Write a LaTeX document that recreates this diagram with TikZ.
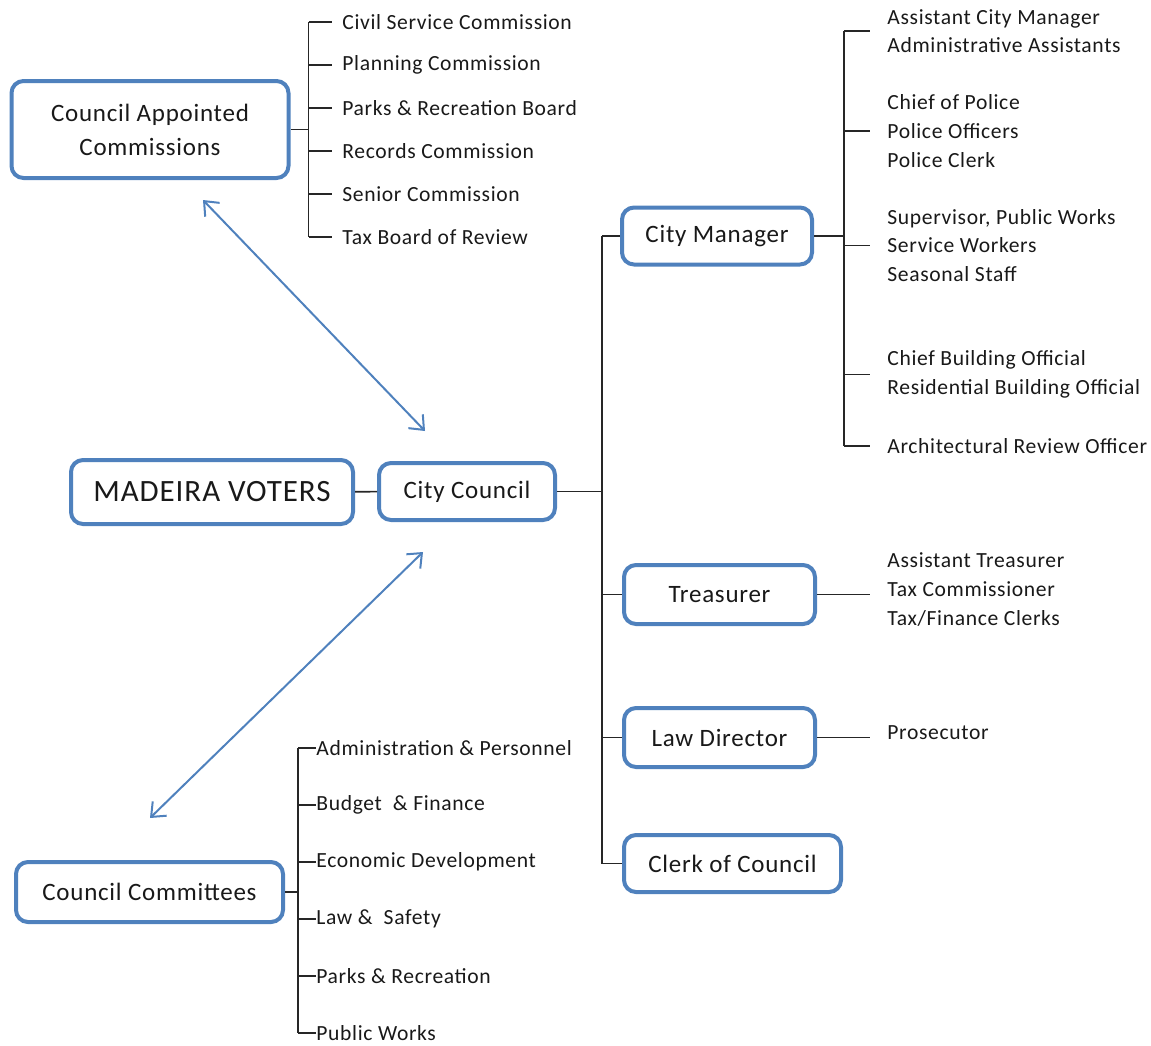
\documentclass[tikz,border=0pt]{standalone}
\usepackage{fontspec}
\setmainfont{Carlito}[LetterSpace=3]
\usetikzlibrary{arrows.meta,calc}
\definecolor{boxblue}{RGB}{79,129,189}
\definecolor{linegray}{RGB}{38,38,38}
\tikzset{
  box/.style={draw=boxblue,line width=2pt,rounded corners=6pt,fill=white,align=center,inner sep=0pt,text=black!90,font=\fontsize{12.5}{17}\selectfont},
  item/.style={anchor=west,inner sep=0pt,align=left,text=black!90,font=\fontsize{10.8}{14.35}\selectfont},
  tree/.style={draw=linegray,line width=0.8pt},
  link/.style={draw=boxblue,line width=1pt,{Straight Barb[length=6pt,width=10pt]}-{Straight Barb[length=6pt,width=10pt]}}
}
\begin{document}
\begin{tikzpicture}[x=0.5pt,y=-0.5pt]
  \useasboundingbox (0,0) rectangle (1151,1045);
  \begin{scope}
    \node[box,minimum width=138.5pt,minimum height=48.5pt] (cac) at (150,129.5) {Council Appointed\\Commissions};
    \node[box,minimum width=141pt,minimum height=32pt,font=\fontsize{15.5}{18}\selectfont] (voters) at (212,492) {MADEIRA VOTERS};
    \node[box,minimum width=88pt,minimum height=28.5pt] (council) at (467,491.5) {City Council};
    \node[box,minimum width=95pt,minimum height=28.5pt] (manager) at (717,236) {City Manager};
    \node[box,minimum width=95.5pt,minimum height=29.5pt] (treasurer) at (719.5,594.5) {Treasurer};
    \node[box,minimum width=95.5pt,minimum height=29.5pt] (law) at (719.5,737.5) {Law Director};
    \node[box,minimum width=108.5pt,minimum height=28.5pt] (clerk) at (732.5,863.5) {Clerk of Council};
    \node[box,minimum width=133.5pt,minimum height=30pt] (committees) at (149.5,892) {Council Committees};

    \node[item] (c1) at (342,22) {Civil Service Commission};
    \node[item] (c2) at (342,65) {Planning Commission};
    \node[item] (c3) at (342,108) {Parks \& Recreation Board};
    \node[item] (c4) at (342,151) {Records Commission};
    \node[item] (c5) at (342,194) {Senior Commission};
    \node[item] (c6) at (342,237) {Tax Board of Review};

    \node[item] (k1) at (316,748) {Administration \& Personnel};
    \node[item] (k2) at (316,805) {Budget\ \ \& Finance};
    \node[item] (k3) at (316,862) {Economic Development};
    \node[item] (k4) at (316,919) {Law \&\ \ Safety};
    \node[item] (k5) at (316,976) {Parks \& Recreation};
    \node[item] (k6) at (316,1033) {Public Works};

    \node[item] (s1) at (887,31) {Assistant City Manager\\Administrative Assistants};
    \node[item] (s2) at (887,131) {Chief of Police\\Police Officers\\Police Clerk};
    \node[item] (s3) at (887,245.5) {Supervisor, Public Works\\Service Workers\\Seasonal Staff};
    \node[item] (s4) at (887,374.5) {Chief Building Official\\Residential Building Official};
    \node[item] (s5) at (887,446) {Architectural Review Officer};

    \node[item] (t1) at (887,589.5) {Assistant Treasurer\\Tax Commissioner\\Tax/Finance Clerks};
    \node[item] (p1) at (887,733) {Prosecutor};

    \path[tree] (voters) -- (council);

    \coordinate (mj) at ($(council.east)+(45,0)$);
    \path[tree] (council.east) -- (mj);
    \path[tree] (mj |- manager.west) -- (mj |- clerk.west);
    \path[tree] (mj |- manager.west) -- (manager.west);
    \path[tree] (mj |- treasurer.west) -- (treasurer.west);
    \path[tree] (mj |- law.west) -- (law.west);
    \path[tree] (mj |- clerk.west) -- (clerk.west);

    \coordinate (cj) at ($(cac.east)+(18,0)$);
    \path[tree] (cac.east) -- (cj);
    \path[tree] (cj |- c1.west) -- (cj |- c6.west);
    \path[tree] (cj |- c1.west) -- ([xshift=-5pt]c1.west);
    \path[tree] (cj |- c2.west) -- ([xshift=-5pt]c2.west);
    \path[tree] (cj |- c3.west) -- ([xshift=-5pt]c3.west);
    \path[tree] (cj |- c4.west) -- ([xshift=-5pt]c4.west);
    \path[tree] (cj |- c5.west) -- ([xshift=-5pt]c5.west);
    \path[tree] (cj |- c6.west) -- ([xshift=-5pt]c6.west);

    \coordinate (kj) at ($(committees.east)+(13,0)$);
    \path[tree] (committees.east) -- (kj);
    \path[tree] (kj |- k1.west) -- (kj |- k6.west);
    \path[tree] (kj |- k1.west) -- (k1.west);
    \path[tree] (kj |- k2.west) -- (k2.west);
    \path[tree] (kj |- k3.west) -- (k3.west);
    \path[tree] (kj |- k4.west) -- (k4.west);
    \path[tree] (kj |- k5.west) -- (k5.west);
    \path[tree] (kj |- k6.west) -- (k6.west);

    \coordinate (sj) at ($(manager.east)+(30,0)$);
    \path[tree] (manager.east) -- (sj);
    \path[tree] (sj |- s1.west) -- (sj |- s5.west);
    \path[tree] (sj |- s1.west) -- ([xshift=-8.5pt]s1.west);
    \path[tree] (sj |- s2.west) -- ([xshift=-8.5pt]s2.west);
    \path[tree] (sj |- s3.west) -- ([xshift=-8.5pt]s3.west);
    \path[tree] (sj |- s4.west) -- ([xshift=-8.5pt]s4.west);
    \path[tree] (sj |- s5.west) -- ([xshift=-8.5pt]s5.west);

    \coordinate (tj) at ([xshift=-8.5pt]t1.west);
    \path[tree] (treasurer.east) -- (tj |- treasurer.east);
    \coordinate (pj) at ([xshift=-8.5pt]p1.west);
    \path[tree] (law.east) -- (pj |- law.east);

    \path[link] ($(cac.south)+(53,20)$) -- ($(council.north)+(-42,-30)$);
    \path[link] ($(committees.north)+(0.5,-42)$) -- ($(council.south)+(-44,30)$);
  \end{scope}
\end{tikzpicture}
\end{document}
